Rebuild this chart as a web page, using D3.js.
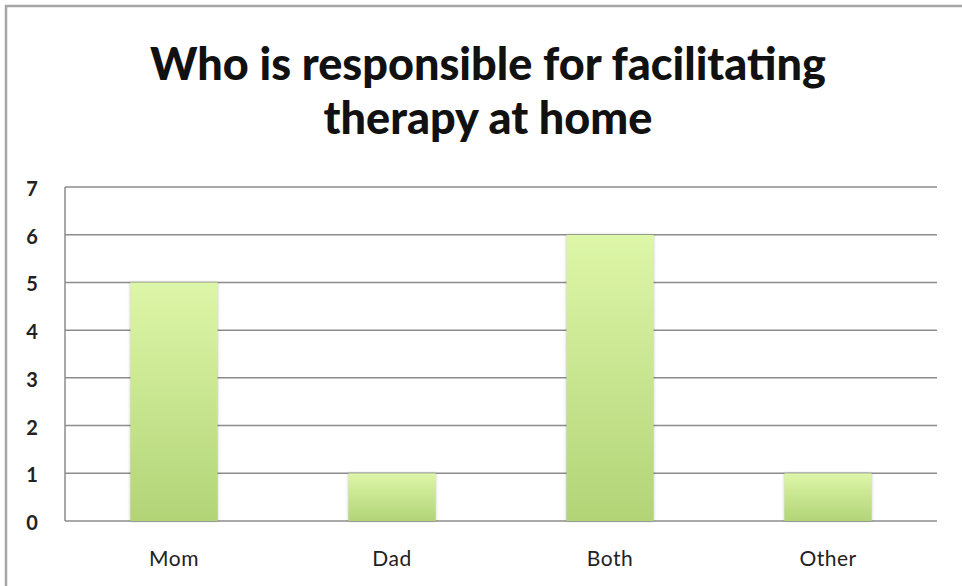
<!DOCTYPE html>
<html>
<head>
<meta charset="UTF-8">
<title>Who is responsible for facilitating therapy at home</title>
<script src="https://d3js.org/d3.v7.min.js"></script>
<style>
  body { margin: 0; background: #fff; }
  text { font-family: Lato, "Open Sans", sans-serif; }
</style>
</head>
<body>
<div id="chart"></div>
<script>
// chart data
var categories = ["Mom", "Dad", "Both", "Other"];
var counts = [5, 1, 6, 1];
var yTicks = [0, 1, 2, 3, 4, 5, 6, 7];
var titleLines = ["Who is responsible for facilitating", "therapy at home"];

var W = 962, H = 586;
var margin = {top: 187, right: 25, bottom: 65, left: 65};
var width = W - margin.left - margin.right,
    height = H - margin.top - margin.bottom;

var svg = d3.select("#chart").append("svg")
    .attr("width", W)
    .attr("height", H);

// bar gradient
var grad = svg.append("defs").append("linearGradient")
    .attr("id", "barGrad")
    .attr("x1", 0).attr("y1", 0).attr("x2", 0).attr("y2", 1);
grad.append("stop").attr("offset", "0%").attr("stop-color", "#ddf6a8");
grad.append("stop").attr("offset", "100%").attr("stop-color", "#b2d477");

// outer frame (left + top edges)
svg.append("path")
    .attr("d", "M6,586 L6,6 L962,6")
    .attr("fill", "none")
    .attr("stroke", "#a6a6a6")
    .attr("stroke-width", 2.5);

// title
svg.append("text")
    .attr("text-anchor", "middle")
    .attr("font-weight", "900")
    .attr("font-size", 45)
    .attr("fill", "#111")
    .selectAll("tspan")
    .data(titleLines)
    .join("tspan")
    .attr("x", 488)
    .attr("y", function(d, i) { return 80 + i * 54; })
    .text(function(d) { return d; });

var g = svg.append("g")
    .attr("transform", "translate(" + margin.left + "," + margin.top + ")");

var x = d3.scaleBand()
    .domain(categories)
    .range([0, width])
    .paddingInner(0.6)
    .paddingOuter(0.3);

var y = d3.scaleLinear()
    .domain([0, 7])
    .range([height, 0]);

// gridlines
g.selectAll(".grid")
    .data(yTicks)
    .join("line")
    .attr("class", "grid")
    .attr("x1", 0).attr("x2", width)
    .attr("y1", function(d) { return y(d); })
    .attr("y2", function(d) { return y(d); })
    .attr("stroke", "#8c8c8c")
    .attr("stroke-width", 1.5);

// y axis line
g.append("line")
    .attr("x1", 0).attr("x2", 0)
    .attr("y1", 0).attr("y2", height)
    .attr("stroke", "#8c8c8c")
    .attr("stroke-width", 1.5);

// y tick labels
g.selectAll(".ylab")
    .data(yTicks)
    .join("text")
    .attr("class", "ylab")
    .attr("x", -33)
    .attr("y", function(d) { return y(d); })
    .attr("dy", "0.45em")
    .attr("text-anchor", "middle")
    .attr("font-size", 20)
    .attr("font-weight", "bold")
    .attr("fill", "#222")
    .text(function(d) { return d; });

// bars
g.selectAll(".bar")
    .data(counts)
    .join("rect")
    .attr("class", "bar")
    .attr("x", function(d, i) { return x(categories[i]); })
    .attr("width", x.bandwidth())
    .attr("y", function(d) { return y(d); })
    .attr("height", function(d) { return y(0) - y(d); })
    .attr("fill", "url(#barGrad)")
    .style("filter", "drop-shadow(0px 0px 1.5px rgba(0,0,0,0.25))");

// category labels
g.selectAll(".xlab")
    .data(categories)
    .join("text")
    .attr("class", "xlab")
    .attr("x", function(d) { return x(d) + x.bandwidth() / 2; })
    .attr("y", height + 45)
    .attr("text-anchor", "middle")
    .attr("font-size", 21)
    .attr("letter-spacing", 0.5)
    .attr("fill", "#222")
    .text(function(d) { return d; });
</script>
</body>
</html>
